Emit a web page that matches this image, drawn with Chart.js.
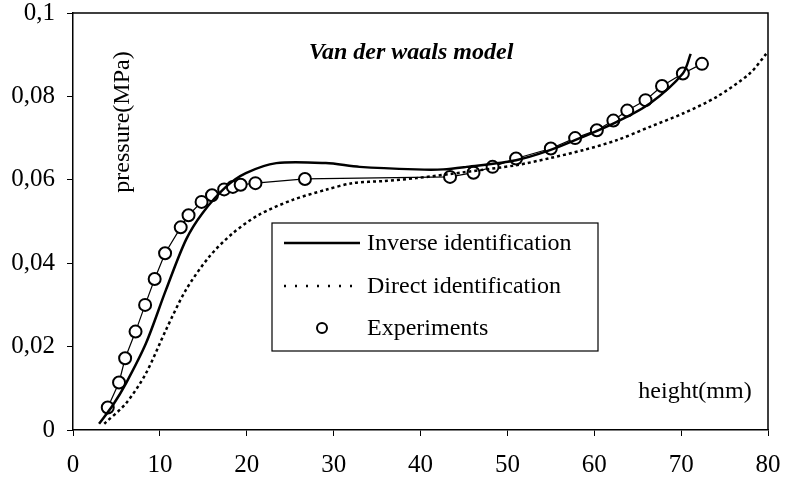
<!DOCTYPE html>
<html>
<head>
<meta charset="utf-8">
<script src="https://cdn.jsdelivr.net/npm/chart.js@4/dist/chart.umd.min.js"></script>
<style>
	body { margin: 0; background: #fff; }
	#wrap { width: 808px; height: 483px; }
</style>
</head>
<body>
<div id="wrap"><canvas id="vdw" width="808" height="483"></canvas></div>
<script>
// values
const xTicks = [0, 10, 20, 30, 40, 50, 60, 70, 80];
const yTickLabels = ["0", "0,02", "0,04", "0,06", "0,08", "0,1"];

const inverseX = [3.0, 4.6, 6.1, 8.4, 10.7, 13.0, 14.9, 17.6, 19.9, 23.4, 29.1, 33.0, 39.5, 42.6, 45.3, 51.0, 54.9, 58.7, 62.6, 66.4, 70.2, 71.1];
const inverseY = [0.0015, 0.006, 0.0112, 0.0208, 0.0336, 0.0456, 0.052, 0.0583, 0.0616, 0.064, 0.064, 0.0631, 0.0625, 0.0625, 0.0631, 0.0647, 0.0671, 0.0703, 0.0739, 0.0783, 0.0855, 0.0902];

const directX = [3.6, 6.1, 8.4, 10.7, 13.0, 15.7, 18.4, 21.4, 25.3, 29.1, 32.2, 35.7, 39.5, 45.3, 51.0, 54.9, 58.7, 62.6, 66.4, 70.2, 74.1, 77.9, 79.8];
const directY = [0.0015, 0.0064, 0.0136, 0.024, 0.0336, 0.0416, 0.0472, 0.0516, 0.0552, 0.0576, 0.0592, 0.0597, 0.0604, 0.0619, 0.0635, 0.0652, 0.0671, 0.0695, 0.0727, 0.0759, 0.0799, 0.0855, 0.0902];

const expX = [4.0, 5.3, 6.0, 7.2, 8.3, 9.4, 10.6, 12.4, 13.3, 14.8, 16.0, 17.4, 18.4, 19.3, 21.0, 26.7, 43.4, 46.1, 48.3, 51.0, 55.0, 57.8, 60.3, 62.2, 63.8, 65.9, 67.8, 70.2, 72.4];
const expY = [0.0054, 0.0114, 0.0172, 0.0236, 0.030, 0.0362, 0.0424, 0.0486, 0.0515, 0.0547, 0.0563, 0.0577, 0.0583, 0.0588, 0.0592, 0.0602, 0.0607, 0.0617, 0.0631, 0.0651, 0.0675, 0.070, 0.0719, 0.0742, 0.0766, 0.0791, 0.0825, 0.0855, 0.0878];

const pts = (xs, ys) => xs.map((x, i) => ({ x: x, y: ys[i] }));
const serif = "'Liberation Serif', 'DejaVu Serif', serif";

// titles + framed legend drawn straight on the canvas
const extras = {
	id: "extras",
	afterDraw(chart) {
		const ctx = chart.ctx;
		const a = chart.chartArea;
		ctx.save();
		ctx.strokeStyle = "#000";
		ctx.lineWidth = 1.5;
		ctx.beginPath();
		ctx.moveTo(a.left, a.top);
		ctx.lineTo(a.right, a.top);
		ctx.lineTo(a.right, a.bottom);
		ctx.stroke();

		ctx.fillStyle = "#000";
		ctx.textAlign = "center";
		ctx.textBaseline = "middle";
		ctx.font = "bold italic 24px " + serif;
		ctx.fillText("Van der waals model", a.left + 338, a.top + 40);

		ctx.font = "24px " + serif;
		ctx.fillText("height(mm)", a.left + 622, a.top + 379);

		ctx.save();
		ctx.translate(a.left + 50, a.top + 109);
		ctx.rotate(-Math.PI / 2);
		ctx.fillText("pressure(MPa)", 0, 0);
		ctx.restore();

		// legend box
		const bx = a.left + 199, by = a.top + 210, bw = 326, bh = 128;
		ctx.fillStyle = "#fff";
		ctx.fillRect(bx, by, bw, bh);
		ctx.lineWidth = 1.2;
		ctx.strokeRect(bx, by, bw, bh);
		ctx.textAlign = "left";
		ctx.font = "24px " + serif;
		const rows = [20, 63, 105];
		chart.data.datasets.forEach((ds, i) => {
			const y = by + rows[i];
			ctx.strokeStyle = "#000";
			if (ds.showLegendMarker) {
				ctx.lineWidth = 2;
				ctx.setLineDash([]);
				ctx.beginPath();
				ctx.arc(bx + 50, y, 5, 0, Math.PI * 2);
				ctx.stroke();
			} else {
				ctx.lineWidth = ds.borderWidth;
				ctx.setLineDash(ds.legendDash || []);
				ctx.beginPath();
				ctx.moveTo(bx + 12, y);
				ctx.lineTo(bx + 88, y);
				ctx.stroke();
				ctx.setLineDash([]);
			}
			ctx.fillStyle = "#000";
			ctx.fillText(ds.label, bx + 95, y + 1);
		});
		ctx.restore();
	},
};

new Chart(document.getElementById("vdw"), {
	type: "line",
	data: {
		datasets: [
			{
				label: "Inverse identification",
				data: pts(inverseX, inverseY),
				borderColor: "#000",
				borderWidth: 2.5,
				pointRadius: 0,
				tension: 0.3,
			},
			{
				label: "Direct identification",
				data: pts(directX, directY),
				borderColor: "#000",
				borderWidth: 2.5,
				borderDash: [3, 3],
				legendDash: [2, 9],
				pointRadius: 0,
				tension: 0.3,
			},
			{
				label: "Experiments",
				data: pts(expX, expY),
				borderColor: "#000",
				borderWidth: 1.2,
				pointRadius: 6,
				pointBorderWidth: 2,
				pointBackgroundColor: "#fff",
				pointBorderColor: "#000",
				tension: 0,
				showLegendMarker: true,
			},
		],
	},
	options: {
		responsive: false,
		animation: false,
		layout: { padding: { top: 0, right: 40, left: 0, bottom: 0 } },
		plugins: {
			legend: { display: false },
			tooltip: { enabled: false },
		},
		scales: {
			x: {
				type: "linear",
				min: 0,
				max: 80,
				afterBuildTicks: (ax) => { ax.ticks = xTicks.map((v) => ({ value: v })); },
				afterFit: (ax) => { ax.height = 53; },
				grid: { drawOnChartArea: false, drawTicks: true, tickLength: 6, color: "#000", lineWidth: 1 },
				border: { display: true, color: "#000", width: 1.5 },
				ticks: { color: "#000", padding: 14, maxRotation: 0, font: { family: serif, size: 25 } },
			},
			y: {
				min: 0,
				max: 0.1,
				ticks: {
					stepSize: 0.02,
					color: "#000",
					padding: 12,
					font: { family: serif, size: 25 },
					callback: (v, i) => yTickLabels[i],
				},
				afterFit: (ax) => {
					ax.width = 73;
					ax.paddingTop = 13;
					ax.paddingBottom = 0;
				},
				grid: { drawOnChartArea: false, drawTicks: true, tickLength: 6, color: "#000", lineWidth: 1 },
				border: { display: true, color: "#000", width: 1.5 },
			},
		},
	},
	plugins: [extras],
});
</script>
</body>
</html>
